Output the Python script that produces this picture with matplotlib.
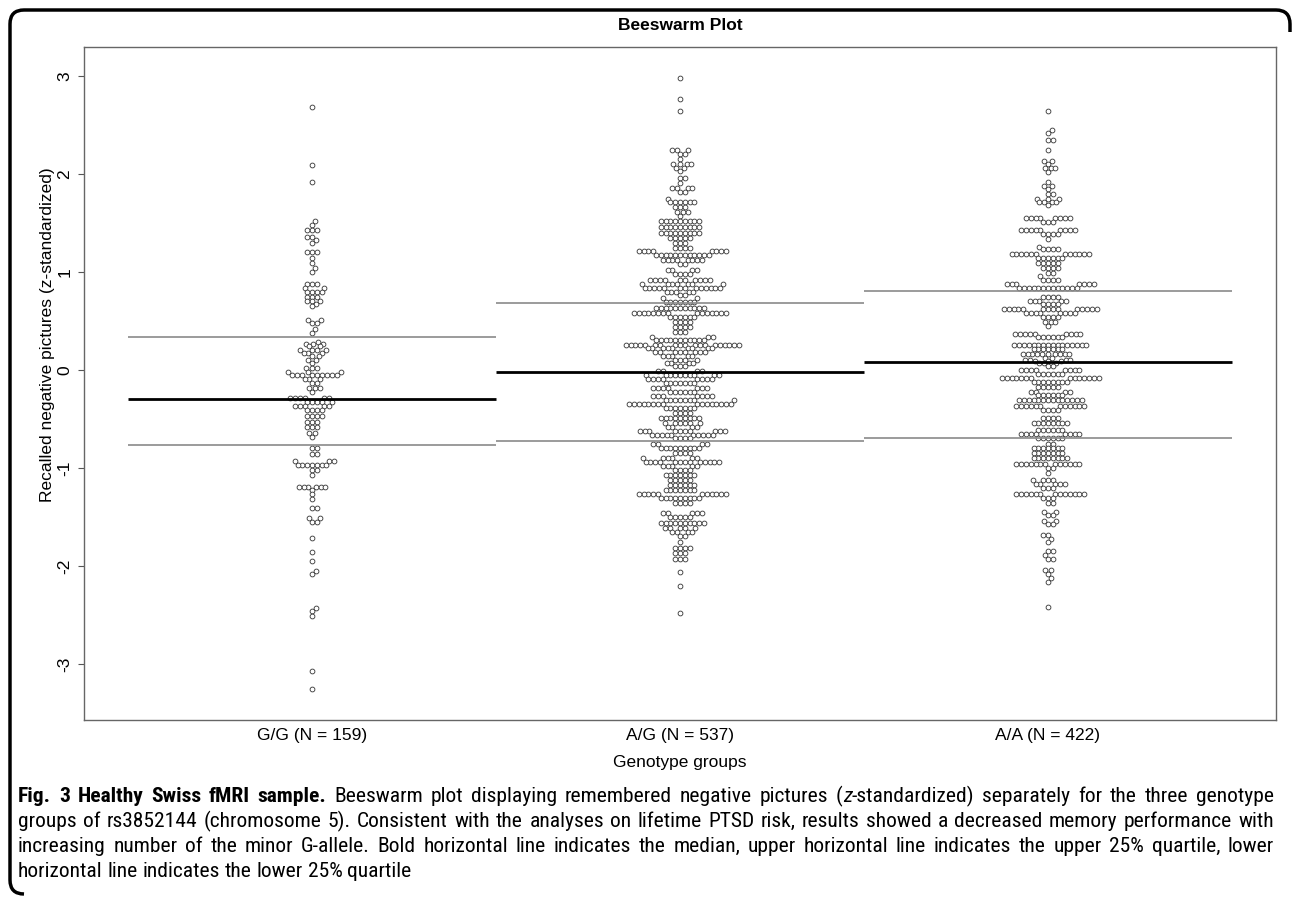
import numpy as np
import matplotlib.pyplot as plt
from matplotlib.path import Path
from matplotlib.patches import PathPatch

plt.rcParams['font.family'] = ['Liberation Sans', 'DejaVu Sans']

# ---- data (z-scores, grouped at the visible levels) ----
groups = ["G/G (N = 159)", "A/G (N = 537)", "A/A (N = 422)"]

gg_levels = [2.68, 2.09, 1.92,
             1.52, 1.48, 1.43, 1.36, 1.33, 1.30,
             1.20, 1.14, 1.09, 1.04, 1.00,
             0.88, 0.84, 0.80, 0.75, 0.70, 0.67, 0.65,
             0.51, 0.48, 0.42, 0.38,
             0.29, 0.27, 0.24, 0.20, 0.17, 0.14, 0.10, 0.07,
             0.02, -0.02, -0.05, -0.09, -0.13, -0.18, -0.22,
             -0.29, -0.33, -0.37, -0.41, -0.47, -0.53, -0.58, -0.64, -0.68,
             -0.80, -0.86, -0.93, -0.97, -1.02, -1.07,
             -1.19, -1.22, -1.27, -1.32,
             -1.41, -1.51, -1.55,
             -1.71, -1.86, -1.95, -2.05, -2.08, -2.43, -2.46, -2.51, -3.07, -3.26]
gg_counts = [1, 1, 1,
             1, 1, 3, 2, 1, 1,
             3, 1, 1, 1, 1,
             3, 2, 4, 3, 3, 1, 1,
             2, 2, 1, 1,
             1, 3, 2, 4, 3, 2, 2, 1,
             3, 3, 9, 3, 2, 3, 1,
             6, 5, 5, 4, 4, 3, 3, 2, 1,
             2, 2, 3, 7, 2, 1,
             6, 1, 1, 1,
             2, 2, 2,
             1, 1, 1, 1, 1, 1, 1, 1, 1, 1]

ag_levels = [2.98, 2.77, 2.64,
             2.24, 2.20, 2.15, 2.10, 2.06, 2.03,
             1.96, 1.91, 1.86, 1.82,
             1.75, 1.71, 1.66, 1.61, 1.57,
             1.52, 1.46, 1.40, 1.35,
             1.30, 1.24, 1.21, 1.17, 1.12, 1.08,
             1.02, 0.98, 0.92, 0.88, 0.84, 0.80, 0.77,
             0.73, 0.69, 0.63, 0.58, 0.54, 0.49, 0.44,
             0.39, 0.34, 0.31, 0.26, 0.22, 0.18, 0.14, 0.10, 0.07,
             0.04, -0.01, -0.05, -0.09, -0.13, -0.18, -0.22, -0.27,
             -0.31, -0.35, -0.39,
             -0.44, -0.49, -0.54,
             -0.58, -0.62, -0.66, -0.69,
             -0.76, -0.80, -0.85,
             -0.90, -0.94, -0.98, -1.02, -1.07,
             -1.12, -1.17, -1.22, -1.27, -1.31, -1.36,
             -1.46, -1.50, -1.56, -1.61, -1.65, -1.69,
             -1.76, -1.82, -1.87, -1.93,
             -2.06, -2.20, -2.48]
ag_counts = [1, 1, 1,
             3, 2, 1, 4, 2, 1,
             2, 1, 4, 2,
             1, 6, 3, 3, 1,
             9, 9, 9, 5,
             3, 4, 8, 12, 8, 2,
             4, 4, 10, 7, 13, 5, 2,
             2, 7, 11, 15, 6, 4, 4,
             3, 3, 11, 19, 9, 8, 5, 4, 4,
             3, 4, 10, 8, 7, 7, 6, 7,
             8, 16, 7,
             4, 9, 6,
             4, 10, 10, 4,
             4, 9, 4,
             6, 13, 5, 4, 7,
             5, 6, 7, 11, 9, 4,
             5, 5, 10, 5, 4, 2,
             1, 4, 3, 3,
             1, 1, 1]

aa_levels = [2.64, 2.45, 2.42, 2.35, 2.24,
             2.13, 2.10, 2.06, 2.02,
             1.92, 1.88, 1.85, 1.80, 1.75, 1.71, 1.68,
             1.55, 1.51, 1.43, 1.39, 1.34,
             1.26, 1.23, 1.18, 1.14, 1.09, 1.04, 0.99, 0.96,
             0.92, 0.88, 0.84,
             0.74, 0.70, 0.67, 0.62, 0.58, 0.54, 0.49, 0.45,
             0.37, 0.34, 0.26, 0.21, 0.16, 0.12, 0.10, 0.09,
             0.07, 0.04, 0.00, -0.04, -0.08, -0.12, -0.17, -0.22, -0.26, -0.31, -0.37, -0.41,
             -0.49, -0.54,
             -0.61, -0.65, -0.69,
             -0.75, -0.80, -0.85, -0.90, -0.96, -1.00, -1.05,
             -1.12, -1.16, -1.20, -1.27, -1.31, -1.36,
             -1.45, -1.48, -1.54, -1.57, -1.68, -1.72, -1.76, -1.85, -1.89, -1.93,
             -2.04, -2.08, -2.12, -2.16, -2.42]
aa_counts = [1, 1, 1, 2, 1,
             2, 1, 3, 1,
             1, 2, 1, 2, 3, 4, 1,
             8, 3, 9, 4, 1,
             1, 4, 12, 6, 5, 4, 2, 1,
             4, 7, 13,
             4, 5, 4, 14, 8, 4, 3, 1,
             9, 6, 16, 7, 10, 2, 4, 3,
             3, 2, 8, 6, 14, 8, 5, 4, 6, 14, 12, 4,
             4, 8,
             6, 8, 6,
             2, 7, 7, 8, 13, 2, 1,
             4, 5, 3, 13, 3, 2,
             2, 2, 2, 2, 2, 1, 1, 2, 1, 2,
             2, 1, 1, 1, 1]

medians = [-0.30, -0.02, 0.085]
upper_q = [0.34, 0.68, 0.81]
lower_q = [-0.77, -0.72, -0.69]

caption_head = [("Fig. 3 Healthy Swiss fMRI sample.", "bold"),
                (" Beeswarm plot displaying remembered negative pictures (", "normal"),
                ("z", "italic"),
                ("-standardized) separately for the three genotype", "normal")]
caption_lines = [
    "groups of rs3852144 (chromosome 5). Consistent with the analyses on lifetime PTSD risk, results showed a decreased memory performance with",
    "increasing number of the minor G-allele. Bold horizontal line indicates the median, upper horizontal line indicates the upper 25% quartile, lower",
    "horizontal line indicates the lower 25% quartile",
]

W, H = 1292, 902
fig = plt.figure(figsize=(W / 100, H / 100), dpi=100)
ax = fig.add_axes([84 / W, 1 - 720 / H, (1276 - 84) / W, (720 - 47) / H])
ax.set_xlim(0.38, 3.62)
ax.set_ylim((370 - 720) / 98, (370 - 47) / 98)

# pixel scale from the axes transform
p0 = ax.transData.transform((1, 0))
p1 = ax.transData.transform((2, 1))
sx, sy = p1[0] - p0[0], p1[1] - p0[1]
d = 4.8  # point spacing in pixels


def swarm(vals):
    yp = np.asarray(vals) * sy
    n = len(yp)
    xs = np.zeros(n)
    order = np.argsort(yp, kind="stable")
    placed = []
    for i in order:
        y = yp[i]
        near = [(xs[j], yp[j]) for j in placed if abs(yp[j] - y) < d]
        cands = [0.0]
        for xj, yj in near:
            off = np.sqrt(d * d - (yj - y) ** 2)
            cands += [xj + off, xj - off]
        cands.sort(key=lambda c: (round(abs(c), 6), c < 0))
        for c in cands:
            if all((c - xj) ** 2 + (y - yj) ** 2 >= d * d - 1e-6 for xj, yj in near):
                xs[i] = c
                break
        placed.append(i)
    return xs / sx


all_levels = [gg_levels, ag_levels, aa_levels]
all_counts = [gg_counts, ag_counts, aa_counts]
for k, (lv, ct) in enumerate(zip(all_levels, all_counts)):
    vals = np.repeat(lv, ct)
    xo = swarm(vals)
    ax.scatter(k + 1 + xo, vals, s=12, facecolors="white", edgecolors="#333333",
               linewidths=0.6, zorder=2)
    ax.hlines([upper_q[k], lower_q[k]], k + 0.5, k + 1.5, color="#8a8a8a", lw=1.2, zorder=3)
    ax.hlines(medians[k], k + 0.5, k + 1.5, color="black", lw=2, zorder=3)

ax.set_xticks([1, 2, 3])
ax.set_xticklabels(groups)
ax.set_yticks([-3, -2, -1, 0, 1, 2, 3])
ax.set_yticklabels(["-3", "-2", "-1", "0", "1", "2", "3"], rotation=90, va="center")
ax.tick_params(axis="x", length=0, pad=6, labelsize=12.5)
ax.tick_params(axis="y", length=4.5, width=0.8, pad=4, labelsize=12.5, color="#555555")
for s in ax.spines.values():
    s.set_color("#666666")
    s.set_linewidth(1)

fig.text(680 / W, 1 - 25 / H, "Beeswarm Plot", ha="center", va="center",
         fontsize=12.5, fontweight="bold")
fig.text(680 / W, 1 - 763 / H, "Genotype groups", ha="center", va="center", fontsize=12.5)
fig.text(48 / W, 1 - 335 / H, "Recalled negative pictures (z-standardized)", rotation=90,
         ha="center", va="center", fontsize=12.5)

# ---- caption ----
cfam = ["Roboto Condensed", "Lato", "Liberation Sans", "DejaVu Sans"]
csize = 12.0
renderer = fig.canvas.get_renderer()
X0, X1 = 18, 1274


def style_kw(st):
    if st == "bold":
        return dict(fontweight="bold")
    if st == "italic":
        return dict(fontstyle="italic")
    return {}


def width_of(txt, st):
    t = fig.text(0, 0, txt, family=cfam, fontsize=csize, **style_kw(st))
    w = t.get_window_extent(renderer).width
    t.remove()
    return w


def words_of(frags):
    # split fragments into words, each word a list of (text, style)
    words = [[]]
    for txt, st in frags:
        parts = txt.split(" ")
        for j, p in enumerate(parts):
            if j > 0:
                words.append([])
            if p:
                words[-1].append((p, st))
    return [w for w in words if w]


def natural_width(words):
    space = width_of("a b", "normal") - width_of("ab", "normal")
    return sum(width_of(t, s) for w in words for t, s in w) + space * (len(words) - 1)


cap_words = [words_of(caption_head)] + [words_of([(c, "normal")]) for c in caption_lines]

# size the caption so the last line is as long as in the figure,
# but never so big that a justified line would not fit
csize = csize * 415 / natural_width(cap_words[3])
widest = max(natural_width(w) for w in cap_words[:3])
if widest > (X1 - X0) * 0.98:
    csize = csize * (X1 - X0) * 0.98 / widest


def put_line(words, ypix, justify=True):
    widths = [sum(width_of(t, s) for t, s in w) for w in words]
    space = width_of("a b", "normal") - width_of("ab", "normal")
    if justify and len(words) > 1:
        gap = (X1 - X0 - sum(widths)) / (len(words) - 1)
    else:
        gap = space
    x = X0
    for w, wd in zip(words, widths):
        xx = x
        for t, s in w:
            fig.text(xx / W, 1 - ypix / H, t, family=cfam, fontsize=csize,
                     va="baseline", ha="left", **style_kw(s))
            xx += width_of(t, s)
        x += wd + gap


put_line(cap_words[0], 802)
put_line(cap_words[1], 827)
put_line(cap_words[2], 852)
put_line(cap_words[3], 877, justify=False)

# rounded frame around figure and caption
r = 14
x0, y0, x1, y1 = 10, 10, 1290, 894
verts = [(x1, y0 + 22), (x1, y0 + r), (x1, y0), (x1 - r, y0),
         (x0 + r, y0), (x0, y0), (x0, y0 + r),
         (x0, y1 - r), (x0, y1), (x0 + r, y1)]
codes = [Path.MOVETO, Path.LINETO, Path.CURVE3, Path.CURVE3,
         Path.LINETO, Path.CURVE3, Path.CURVE3,
         Path.LINETO, Path.CURVE3, Path.CURVE3]
verts = [(vx / W, 1 - vy / H) for vx, vy in verts]
fig.patches.append(PathPatch(Path(verts, codes), transform=fig.transFigure,
                             fill=False, lw=2.5, edgecolor="black"))

fig.savefig("out.png", dpi=100)
